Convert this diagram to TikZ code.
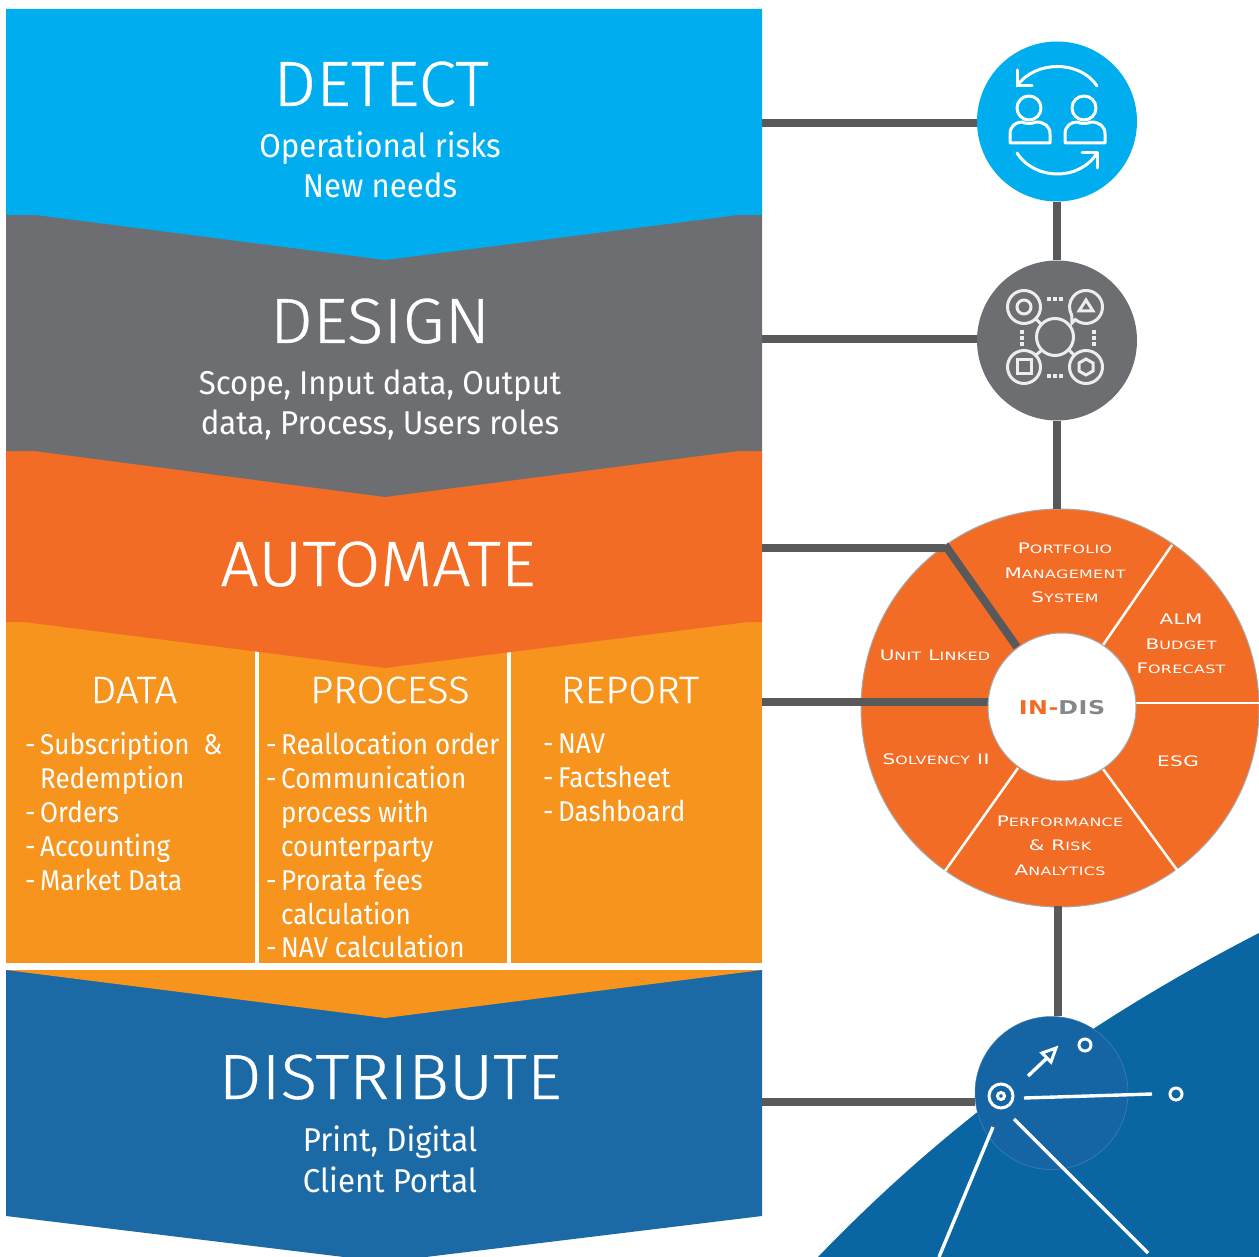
\documentclass[tikz,border=0pt]{standalone}
\usepackage{fontspec}
\setmainfont{Fira Sans}[FakeStretch=0.91]
\newfontfamily\subfont{Fira Sans}[FakeStretch=0.945]
\newfontfamily\titlefont{Fira Sans Light}[FakeStretch=1.06,FakeBold=0.5]
\newfontfamily\wheelfont{DejaVu Sans}[FakeStretch=1.38,LetterSpace=3]
\newfontfamily\hubfont{DejaVu Sans}[FakeStretch=1.25,LetterSpace=3]
\newcommand{\wc}[2]{{\wheelfont\fontsize{14.5}{14.5}\selectfont #1\fontsize{11.5}{11.5}\selectfont #2}}
\definecolor{cyanb}{HTML}{00AEEF}
\definecolor{greyb}{HTML}{6D6E71}
\definecolor{oranged}{HTML}{F36C25}
\definecolor{orangel}{HTML}{F7941D}
\definecolor{blueb}{HTML}{1B6AA5}
\definecolor{bluebg}{HTML}{0A65A3}
\definecolor{bluec}{HTML}{1565A5}
\definecolor{linkc}{HTML}{58595B}
\definecolor{ringc}{HTML}{A7A9AC}
\definecolor{icong}{HTML}{EDEDEE}
\tikzset{
 link/.style={draw=linkc,line width=8pt},
 title/.style={text=white,inner sep=0pt,anchor=base,font=\titlefont\fontsize{64}{64}\selectfont},
 sub/.style={text=white,inner sep=0pt,anchor=base,font=\subfont\fontsize{33}{33}\selectfont},
 head/.style={text=white,inner sep=0pt,anchor=base,font=\titlefont\fontsize{38}{38}\selectfont},
 items/.style={text=white,inner sep=0pt,anchor=north west,align=left,font=\fontsize{28.6}{33.9}\selectfont},
 wheeltext/.style={text=white,inner sep=0pt,anchor=base},
 spoke/.style={draw=white,line width=2.5pt},
 icon/.style={draw=white,line width=3pt,line cap=round,line join=round},
 dicon/.style={draw=icong,line width=3pt,line join=miter},
 dots/.style={draw=icong,line width=3.4pt,dash pattern=on 3.6pt off 2.6pt},
 bline/.style={draw=white,line width=3.4pt},
 disc/.style={circle,inner sep=0pt,minimum size=#1}
}
\newcommand{\dash}{\makebox[15pt][l]{-}}
\begin{document}
\begin{tikzpicture}[x=1pt,y=-1pt]
\useasboundingbox (0,0) rectangle (1259,1257);
\clip (0,0) rectangle (1259,1257);
% backgrounds of the right side
\fill[bluebg] (818,1257) .. controls (950,1120) and (1090,1020) .. (1259,933) -- (1259,1257) -- cycle;
% left stack
\fill[blueb] (6,970) -- (762,970) -- (762,1216) -- (385,1262) -- (6,1216) -- cycle;
\fill[orangel] (6,970) -- (762,970) -- (385,1018) -- cycle;
\fill[orangel] (6,622) rectangle (762,963);
\draw[white,line width=4.4pt] (257,640) -- (257,963) (509,640) -- (509,963);
\fill[oranged] (6,451) -- (762,451) -- (762,622) -- (748,622) -- (385,668) -- (24,622) -- (6,622) -- cycle;
\fill[greyb] (6,215) -- (762,215) -- (762,451) -- (738,451) -- (385,497) -- (34,451) -- (6,451) -- cycle;
\fill[cyanb] (6,9) -- (762,9) -- (762,215) -- (738,215) -- (385,260) -- (36,215) -- (6,215) -- cycle;
% panel edges
\coordinate (edge1) at (762,123);
\coordinate (edge2) at (762,339);
\coordinate (edge3) at (762,548);
\coordinate (edge4) at (762,702);
\coordinate (edge5) at (762,1102);
\coordinate (bend) at (945,548);
\coordinate (spokeend) at (1017,647);
\coordinate (hubedge) at (988,702);
% connectors
\node[disc=160pt,fill=cyanb] (detect) at (1057,121.5) {};
\node[disc=160pt,fill=greyb] (design) at (1057,340.5) {};
\node[disc=398pt,fill=oranged,draw=ringc,line width=1pt] (wheel) at (1060,708) {};
\node[disc=153pt,fill=bluec,draw=bluec!80!white,line width=.5pt] (dist) at (1051.5,1093) {};
\draw[link] (edge1) -- (edge1 -| detect.west);
\draw[link] (edge2) -- (edge2 -| design.west);
\draw[link] (detect.south) -- (design.north);
\draw[link] (design.south) -- (wheel.north -| design.south);
\draw[link] (1058,906) coordinate (wheelbottom) -- (wheelbottom |- dist.north);
\draw[link] (edge5) -- (edge5 -| dist.west);
% wheel spokes and hub
\draw[spoke] (1103,645) -- (1172,545);
\draw[spoke] (1136,703) -- (1259,703);
\draw[spoke] (1103,769) -- (1177,870);
\draw[spoke] (1018,768) -- (945,871);
\draw[link] (edge3) -- (bend);
\draw[link,line cap=butt] (bend) ++(0,-3) -- (spokeend);
\draw[link] (edge4) -- (hubedge);
\node[disc=148pt,fill=white,draw=ringc,line width=1pt] (hub) at (1062,707) {};
\node[inner sep=0pt,anchor=base] (hubtext) at (1062,714.5) {\hubfont\bfseries\fontsize{19}{19}\selectfont\textcolor{oranged}{IN-}\textcolor{ringc!80!black}{DIS}};
% wheel labels
\node[wheeltext] (w1) at (1065,553) {\wc{P}{ORTFOLIO}};
\node[wheeltext] (w2) at (1065,578) {\wc{M}{ANAGEMENT}};
\node[wheeltext] (w3) at (1065,602) {\wc{S}{YSTEM}};
\node[wheeltext] (w4) at (1181,624) {\wc{ALM}{}};
\node[wheeltext] (w5) at (1181,649) {\wc{B}{UDGET}};
\node[wheeltext] (w6) at (1181,673) {\wc{F}{ORECAST}};
\node[wheeltext] (w7) at (935,660) {\wc{U}{NIT}\hspace{7pt}\wc{L}{INKED}};
\node[wheeltext] (w8) at (1178,766) {\wc{ESG}{}};
\node[wheeltext] (w9) at (936,764) {\wc{S}{OLVENCY}\hspace{7pt}\wc{II}{}};
\node[wheeltext] (w10) at (1060,826) {\wc{P}{ERFORMANCE}};
\node[wheeltext] (w11) at (1060,850) {\wc{\&}{}\hspace{7pt}\wc{R}{ISK}};
\node[wheeltext] (w12) at (1060,875) {\wc{A}{NALYTICS}};
% left texts
\node[title] (t1) at (381,106) {DETECT};
\node[sub] (s1a) at (380,158) {Operational risks};
\node[sub] (s1b) at (380,198) {New needs};
\node[title] (t2) at (380,343) {DESIGN};
\node[sub] (s2a) at (380,395) {Scope, Input data, Output};
\node[sub] (s2b) at (380,435) {data, Process, Users roles};
\node[title] (t3) at (378,586) {AUTOMATE};
\node[head] (h1) at (134,703) {DATA};
\node[head] (h2) at (390,703) {PROCESS};
\node[head] (h3) at (630,703) {REPORT};
\node[items] (l1) at (25,732) {\dash Subscription\ \ \&\\\hspace{15pt}Redemption\\\dash Orders\\\dash Accounting\\\dash Market Data};
\node[items] (l2) at (266,732) {\dash Reallocation order\\\dash Communication\\\hspace{15pt}process with\\\hspace{15pt}counterparty\\\dash Prorata fees\\\hspace{15pt}calculation\\\dash NAV calculation};
\node[items] (l3) at (543,734) {\dash NAV\\\dash Factsheet\\\dash Dashboard};
\node[title] (t4) at (390,1099) {DISTRIBUTE};
\node[sub] (s4a) at (390,1151) {Print, Digital};
\node[sub] (s4b) at (390,1192) {Client Portal};
% detect icon
\draw[icon] (1029,108) circle (12);
\draw[icon] (1084,108) circle (12);
\draw[icon] (1010,143) -- (1010,134) .. controls (1010,126) and (1016,122) .. (1022,122) .. controls (1026,124) and (1032,124) .. (1036,122) .. controls (1044,122) and (1050,126) .. (1050,134) -- (1050,143) -- cycle;
\draw[icon] (1065,143) -- (1065,134) .. controls (1065,126) and (1071,122) .. (1077,122) .. controls (1081,124) and (1087,124) .. (1091,122) .. controls (1099,122) and (1105,126) .. (1105,134) -- (1105,143) -- cycle;
\draw[icon] (1097,86) .. controls (1080,60) and (1035,60) .. (1017,86);
\draw[icon] (1017,70) -- (1017,86) -- (1032,86);
\draw[icon] (1017,153) .. controls (1035,181) and (1080,181) .. (1097,153);
\draw[icon] (1082,153) -- (1097,153) -- (1097,168);
% design icon
\draw[dicon] (1055,337) circle (18.5);
\draw[dicon] (1024,307) circle (16.5);
\draw[dicon] (1024,307) circle (7);
\draw[dicon] (1024,367) circle (16.5);
\draw[dicon] (1017,360) rectangle (1031,374);
\draw[dicon] (1086,367) circle (16.5);
\draw[dicon] (1086,359) -- (1093,363) -- (1093,371) -- (1086,375) -- (1079,371) -- (1079,363) -- cycle;
\draw[dicon] (1075.4,319.6) arc[start angle=130,end angle=-210,radius=16.5] -- (1072,323) -- cycle;
\draw[dicon] (1086,300) -- (1093,311) -- (1079,311) -- cycle;
\draw[dicon] (1036,319) -- (1042,325);
\draw[dicon] (1036,355) -- (1042,350);
\draw[dicon] (1069,350) -- (1075,356);
\draw[dots] (1047,299) -- (1065,299);
\draw[dots] (1047,376) -- (1065,376);
\draw[dots] (1022,330) -- (1022,346);
\draw[dots] (1094,330) -- (1094,346);
% distribute icon
\draw[white,line width=3pt] (1001,1096) circle (12);
\draw[white,line width=3pt] (1001,1096) circle (3.5);
\draw[white,line width=3pt] (1085,1045) circle (6);
\draw[white,line width=3pt] (1176,1094) circle (6);
\draw[bline] (1024,1098) -- (1152,1094);
\draw[bline] (1028,1076) -- (1047,1058);
\draw[white,line width=3pt,line join=miter] (1056,1048) -- (1051,1062) -- (1042,1053) -- cycle;
\draw[bline] (993,1127) -- (939,1257);
\draw[bline] (1014,1119) -- (1148,1253);
\end{tikzpicture}
\end{document}
